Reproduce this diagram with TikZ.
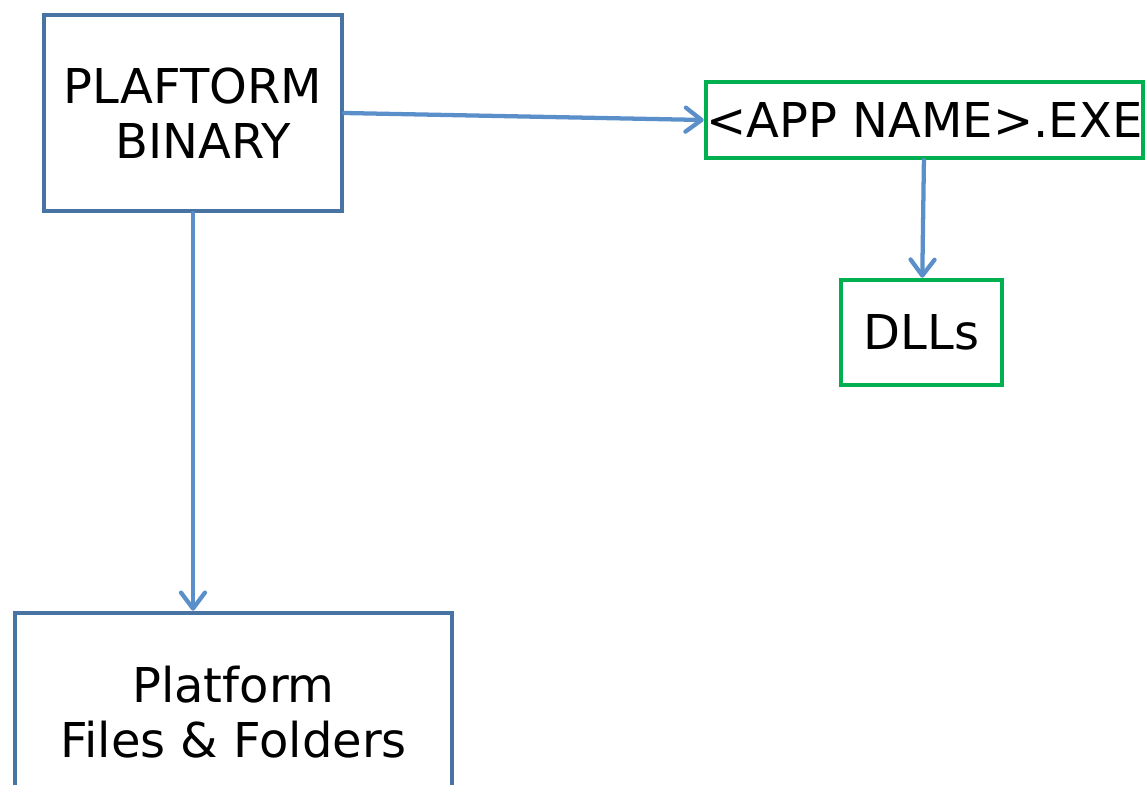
\documentclass[tikz,border=0pt]{standalone}
\usepackage{fontspec}
\setmainfont{DejaVu Sans}
\usetikzlibrary{arrows.meta}
\definecolor{boxblue}{RGB}{72,116,163}
\definecolor{arrowblue}{RGB}{91,143,201}
\definecolor{boxgreen}{RGB}{0,176,80}
\begin{document}
\begin{tikzpicture}[x=0.75pt,y=-0.75pt,
  box/.style={draw, rectangle, line width=3.4pt, inner sep=0pt, align=center,
    fill=white, font=\fontsize{36}{41}\selectfont},
  bluebox/.style={box, draw=boxblue},
  greenbox/.style={box, draw=boxgreen},
  link/.style={draw=arrowblue, line width=3.2pt, line cap=round,
    -{Straight Barb[length=12pt,width=18pt,line cap=round,line join=round]}}]
\useasboundingbox (0,0) rectangle (1146,785);
\clip (0,0) rectangle (1146,785);

% platform side
\node[bluebox, minimum width=223.5pt, minimum height=147pt] (bin) at (193,113)
  {PLAFTORM\\\hspace*{15pt}BINARY};
\node[bluebox, minimum width=327.75pt, minimum height=148.5pt] (files) at (233.5,712)
  {Platform\\Files \& Folders};

% application side
\node[greenbox, minimum width=327.75pt, minimum height=57pt] (exe) at (924.5,120)
  {<APP NAME>.EXE};
\node[greenbox, minimum width=120.75pt, minimum height=78.75pt] (dlls) at (921.5,332.5)
  {DLLs};

% connectors
\draw[link] (bin.east) -- (exe.west);
\draw[link] (exe) -- (dlls);
\draw[link] (bin.south) -- (bin.south |- files.north);
\end{tikzpicture}
\end{document}
